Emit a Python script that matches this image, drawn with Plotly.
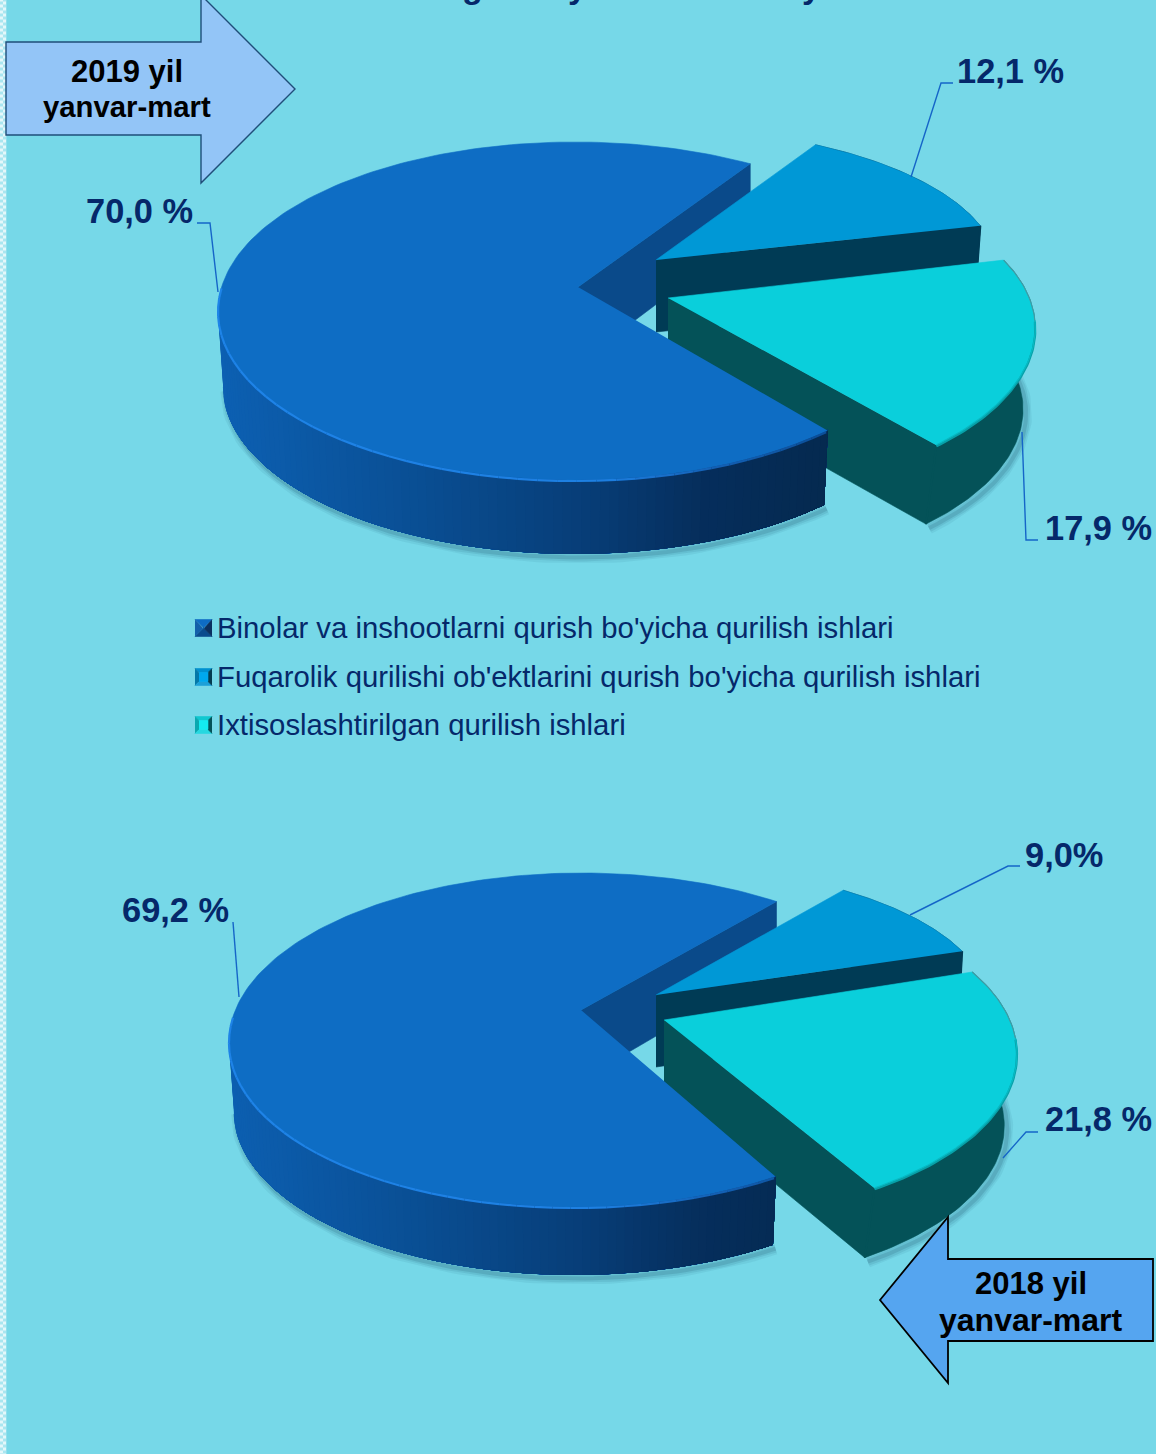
import numpy as np
import plotly.graph_objects as go

# ---- data ----
CATEGORIES = ["Binolar va inshootlarni qurish bo'yicha qurilish ishlari",
              "Fuqarolik qurilishi ob'ektlarini qurish bo'yicha qurilish ishlari",
              "Ixtisoslashtirilgan qurilish ishlari"]
VALUES_2019 = [70.0, 12.1, 17.9]
VALUES_2018 = [69.2, 9.0, 21.8]
LABELS_2019 = ["70,0 %", "12,1 %", "17,9 %"]
LABELS_2018 = ["69,2 %", "9,0%", "21,8 %"]
ARROW_2019 = ["2019 yil", "yanvar-mart"]
ARROW_2018 = ["2018 yil", "yanvar-mart"]

# ---- styling / layout ----
W, H = 1156, 1454
BG = "#76D8E8"
TXT = "#05286A"
LEAD = "#1565C8"
TOP = ["#0E6DC4", "#0098D6", "#0ACFDB"]
WALL = ["#0A4A8A", "#003B55", "#045258"]
GRAD_X = [222, 400, 580, 700, 826]
GRAD_C = [(13, 96, 178), (10, 80, 150), (8, 62, 120), (6, 46, 92), (5, 42, 80)]

GEOM_2019 = [
    dict(cx=575, cy=311, rx=357, ry=169, ax=578, ay=287, start=60.6, scale=1.0095, depth=76, shift=0, k=.985, skew=0),
    dict(cx=654, cy=271, rx=344, ry=143, ax=656, ay=260, start=62, scale=1.0, depth=72, shift=-2, k=.99, skew=0),
    dict(cx=725, cy=335, rx=310, ry=157, ax=668, ay=298, start=28.5, scale=1.135, depth=81, shift=-6, k=.98, skew=13),
]
GEOM_2018 = [
    dict(cx=578, cy=1040, rx=349, ry=167, ax=581, ay=1010, start=56, scale=1.0, depth=70, shift=0, k=.985, skew=4),
    dict(cx=657, cy=1008, rx=333, ry=142, ax=656, ay=995, start=56, scale=1.0, depth=72, shift=-1, k=.99, skew=0),
    dict(cx=683, cy=1054, rx=334, ry=164, ax=664, ay=1020, start=30, scale=1.083, depth=72, shift=-6, k=.98, skew=0),
]

fig = go.Figure()


def poly(xs, ys, color):
    fig.add_trace(go.Scatter(x=list(xs), y=list(ys), mode="lines", fill="toself", fillcolor=color,
                             line=dict(color=color, width=0.6), hoverinfo="skip", showlegend=False))


def line(xs, ys, color, width):
    fig.add_trace(go.Scatter(x=list(xs), y=list(ys), mode="lines", line=dict(color=color, width=width),
                             hoverinfo="skip", showlegend=False))


def top_arc(g, th):
    r = np.radians(th)
    return g["cx"] + g["rx"] * np.cos(r) + g["skew"] * np.sin(r), g["cy"] - g["ry"] * np.sin(r)


def bot_arc(g, th):
    r = np.radians(th)
    return (g["cx"] + g["shift"] + g["k"] * g["rx"] * np.cos(r) + g["skew"] * np.sin(r),
            g["cy"] + g["depth"] - g["k"] * g["ry"] * np.sin(r))


def mix(x, xs, cs):
    c = [int(np.interp(x, xs, [s[i] for s in cs])) for i in range(3)]
    return f"rgb({c[0]},{c[1]},{c[2]})"


def shadow(g, th):
    bx, by = bot_arc(g, th)
    for w, a in ((12, .07), (8, .10), (4, .15)):
        line(bx + 3, by + 4, f"rgba(20,70,95,{a})", w)


def draw_pie(values, geoms):
    gm, g2, g3 = geoms
    # main slice: goes counter-clockwise from its start
    m_end = gm["start"] + values[0] * 3.6 * gm["scale"]
    # back cut wall of the main slice
    sx, sy = top_arc(gm, gm["start"])
    poly([gm["ax"], sx, sx, gm["ax"]], [gm["ay"], sy, sy + gm["depth"] - 6, gm["ay"] + gm["depth"]], WALL[0])

    # the two exploded slices go clockwise
    for i, g in ((1, g2), (2, g3)):
        sweep = values[i] * 3.6 * g["scale"]
        th = np.linspace(g["start"], g["start"] - sweep, 70)
        tx, ty = top_arc(g, th)
        bx, by = bot_arc(g, th)
        shadow(g, th)
        poly(np.r_[tx, bx[::-1]], np.r_[ty, by[::-1]], WALL[i])
        poly([g["ax"], tx[-1], bx[-1], g["ax"]], [g["ay"], ty[-1], by[-1], g["ay"] + g["depth"]], WALL[i])
        # hide the seam between the outer wall and the cut wall
        line([tx[-1], bx[-1]], [ty[-1], by[-1]], WALL[i], 2)
        poly(np.r_[g["ax"], tx], np.r_[g["ay"], ty], TOP[i])
        if i == 2:
            front = th < 6
            back = th > 4
            line(tx[back], ty[back], "#3F9CA4", 1.2)
            line(tx[front], ty[front] + 1, "#07A0A8", 2.2)
            line(tx[front], ty[front] - 0.5, "#08BAC4", 1.2)

    # main slice outer wall with a left-to-right shading (nested so no seams show)
    th_front = np.linspace(180, m_end, 90)
    shadow(gm, th_front)
    for a in th_front[:-1]:
        t = np.linspace(a, m_end, 60)
        tx, ty = top_arc(gm, t)
        bx, by = bot_arc(gm, t)
        poly(np.r_[tx, bx[::-1]], np.r_[ty, by[::-1]], mix(tx[0], GRAD_X, GRAD_C))
    # main slice top
    th = np.linspace(gm["start"], m_end, 200)
    tx, ty = top_arc(gm, th)
    poly(np.r_[gm["ax"], tx], np.r_[gm["ay"], ty], TOP[0])
    # bevel along the front edge, bright on the left and fading to the right
    rim = np.linspace(172, m_end - 0.3, 46)
    rim_x = [222, 600, 720, 830]
    rim_c = [(30, 132, 232), (30, 128, 226), (20, 96, 180), (12, 78, 150)]
    for a, b in zip(rim[:-1], rim[1:]):
        t = np.linspace(a, b, 5)
        rx_, ry_ = top_arc(gm, t)
        line(rx_, ry_ + 1, mix(rx_.mean(), rim_x, rim_c), 2.2)


def leader(xs, ys):
    line(xs, ys, LEAD, 1.4)


draw_pie(VALUES_2019, GEOM_2019)
draw_pie(VALUES_2018, GEOM_2018)

leader([911, 941, 953], [177, 83, 83])
leader([197, 210, 218], [223, 223, 292])
leader([1022, 1026, 1038], [432, 540, 540])
leader([910, 1008, 1020], [915, 866, 866])
leader([233, 239], [922, 997])
leader([1003, 1026, 1038], [1158, 1132, 1132])

# left-hand dotted strip
strip_y = np.arange(0, H + 6, 6)
fig.add_trace(go.Scatter(x=np.r_[np.full(strip_y.size, 1.5), np.full(strip_y.size, 4.5)],
                         y=np.r_[strip_y, strip_y + 3], mode="markers",
                         marker=dict(symbol="square", size=3, color="#E4F7FA", line=dict(width=0)),
                         hoverinfo="skip", showlegend=False))

# legend keys: small bevelled squares
LEG_Y = [628, 677, 725]
KEY_X, KEY_HALF = 203.5, 8.5
KEY_INSET = [8, 4, 4]
KEY_FACES = [
    # top, left, bottom, right, centre
    ("#0E6CC4", "#1360AA", "#0A4C8E", "#0B3060", "#0E5EAC"),
    ("#0090D0", "#0478A8", "#1CA0D8", "#043C50", "#00A8EE"),
    ("#10C8D0", "#0AA8B0", "#26D8E0", "#045258", "#14EAF0"),
]
for cy, ins, faces in zip(LEG_Y, KEY_INSET, KEY_FACES):
    o, n = KEY_HALF, KEY_HALF - ins
    X = KEY_X
    poly([X - o, X + o, X + n, X - n], [cy - o, cy - o, cy - n, cy - n], faces[0])
    poly([X - o, X - n, X - n, X - o], [cy - o, cy - n, cy + n, cy + o], faces[1])
    poly([X - o, X + o, X + n, X - n], [cy + o, cy + o, cy + n, cy + n], faces[2])
    poly([X + o, X + n, X + n, X + o], [cy - o, cy - n, cy + n, cy + o], faces[3])
    poly([X - n, X + n, X + n, X - n], [cy - n, cy - n, cy + n, cy + n], faces[4])

ann = []


def text(x, y, s, size, color, anchor="center", yanchor="middle", yshift=0):
    ann.append(dict(x=x, y=y, text=s, showarrow=False, xanchor=anchor, yanchor=yanchor, yshift=yshift,
                    font=dict(family="Liberation Sans, Arial, sans-serif", size=size, color=color)))


for s, y in zip(CATEGORIES, [627, 676, 724]):
    text(215, y, s, 29.3, TXT, "left")

for s, x, y in zip(LABELS_2019, [139, 1010, 1098], [211, 71, 528]):
    text(x, y, f"<b>{s}</b>", 34.4, TXT)
for s, x, y in zip(LABELS_2018, [175, 1064, 1098], [910, 855, 1119]):
    text(x, y, f"<b>{s}</b>", 34.4, TXT)

for s, y, fs in zip(ARROW_2019, [71, 106], [31, 29.3]):
    text(127, y, f"<b>{s}</b>", fs, "#000000")
for s, y, fs in zip(ARROW_2018, [1283, 1320], [31, 32]):
    text(1031, y, f"<b>{s}</b>", fs, "#000000")

# fragments of a heading cut off by the top edge of the picture
for s, x in (("g", 472), ("y", 577), ("y", 811)):
    text(x, 0, f"<b>{s}</b>", 34, TXT, yanchor="bottom", yshift=-7)

shapes = [
    dict(type="path", layer="above", path="M6,42 L201,42 L201,-5 L295,89 L201,183 L201,135 L6,135 Z",
         fillcolor="#93C5F7", line=dict(color="#1F4E79", width=1.4)),
    dict(type="path", layer="above", path="M880,1300 L948,1217 L948,1259 L1153,1259 L1153,1341 L948,1341 L948,1383 Z",
         fillcolor="#55A5F0", line=dict(color="#000000", width=1.8)),
    dict(type="rect", layer="below", x0=0, x1=6.5, y0=0, y1=H, fillcolor="#A9E6F0", line=dict(width=0)),
]

fig.update_layout(
    width=W, height=H, margin=dict(l=0, r=0, t=0, b=0), autosize=False,
    paper_bgcolor=BG, plot_bgcolor=BG, showlegend=False,
    xaxis=dict(range=[0, W], visible=False, fixedrange=True),
    yaxis=dict(range=[H, 0], visible=False, fixedrange=True),
    annotations=ann, shapes=shapes,
)
fig.write_html("out.html", config=dict(displayModeBar=False),
               post_script="document.body.style.margin='0';document.body.style.overflow='hidden';")
